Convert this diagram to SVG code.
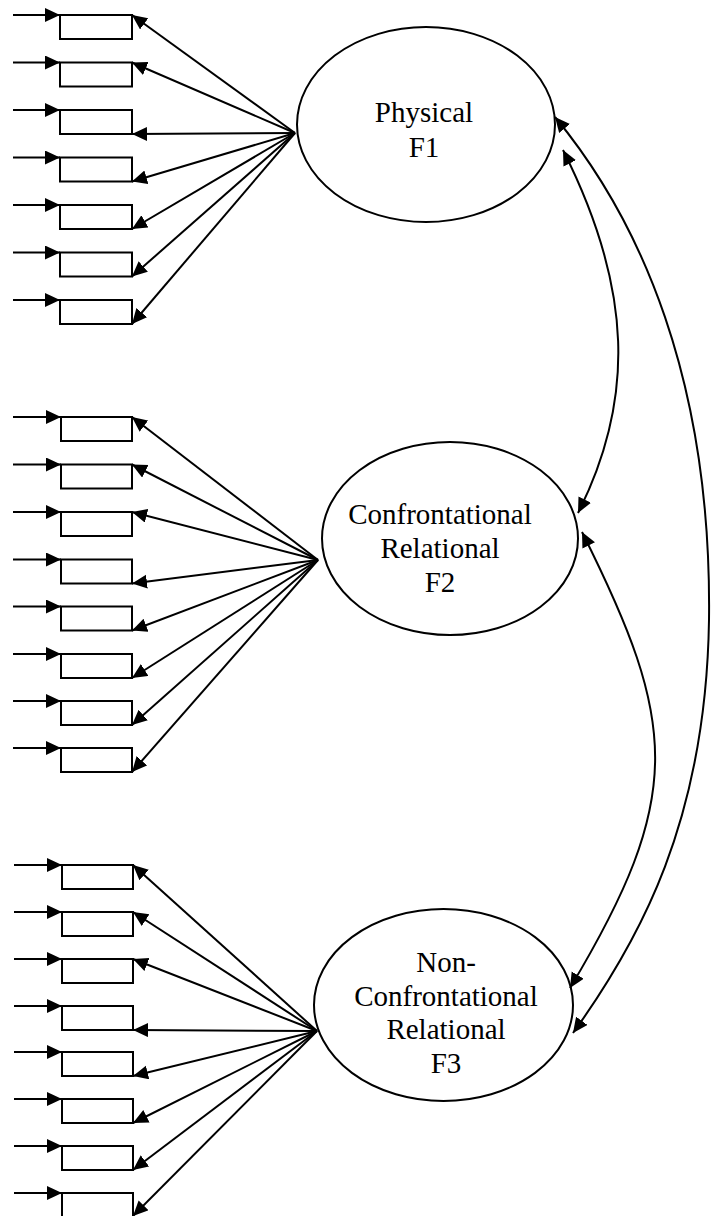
<svg xmlns="http://www.w3.org/2000/svg" width="712" height="1216" viewBox="0 0 712 1216">
<style>
.bg{fill:#fff}
.box{fill:#fff;stroke:#000;stroke-width:2}
.ell{fill:#fff;stroke:#000;stroke-width:2}
.ln{fill:none;stroke:#000;stroke-width:2;marker-end:url(#ah)}
.cv{fill:none;stroke:#000;stroke-width:2;marker-start:url(#ahs);marker-end:url(#ah)}
.lbl{font-family:"Liberation Serif","Times New Roman",serif;font-size:29px;fill:#000;text-anchor:middle}
</style>
<defs>
<marker id="ah" markerUnits="userSpaceOnUse" markerWidth="16" markerHeight="15" refX="15" refY="7" orient="auto" viewBox="0 0 16 15">
<path d="M0,0 L15,7 L0,14 z" fill="#000"/>
</marker>
<marker id="ahs" markerUnits="userSpaceOnUse" markerWidth="16" markerHeight="15" refX="15" refY="7" orient="auto-start-reverse" viewBox="0 0 16 15">
<path d="M0,0 L15,7 L0,14 z" fill="#000"/>
</marker>
</defs>
<rect class="bg" x="0" y="0" width="712" height="1216"/>

<g id="indicators1">
<rect class="box" x="60" y="15" width="72" height="24"/>
<rect class="box" x="60" y="62.5" width="72" height="24"/>
<rect class="box" x="60" y="110" width="72" height="24"/>
<rect class="box" x="60" y="157.5" width="72" height="24"/>
<rect class="box" x="60" y="205" width="72" height="24"/>
<rect class="box" x="60" y="252.5" width="72" height="24"/>
<rect class="box" x="60" y="300" width="72" height="24"/>
</g>
<g id="indicators2">
<rect class="box" x="61" y="417" width="71" height="24"/>
<rect class="box" x="61" y="464.5" width="71" height="24"/>
<rect class="box" x="61" y="512" width="71" height="24"/>
<rect class="box" x="61" y="559.5" width="71" height="24"/>
<rect class="box" x="61" y="606.5" width="71" height="24"/>
<rect class="box" x="61" y="654" width="71" height="24"/>
<rect class="box" x="61" y="701" width="71" height="24"/>
<rect class="box" x="61" y="748" width="71" height="24"/>
</g>
<g id="indicators3">
<rect class="box" x="62" y="865" width="71" height="24"/>
<rect class="box" x="62" y="912" width="71" height="24"/>
<rect class="box" x="62" y="959" width="71" height="24"/>
<rect class="box" x="62" y="1006" width="71" height="24"/>
<rect class="box" x="62" y="1052" width="71" height="24"/>
<rect class="box" x="62" y="1099" width="71" height="24"/>
<rect class="box" x="62" y="1146" width="71" height="24"/>
<rect class="box" x="62" y="1193" width="71" height="24"/>
</g>

<g id="F1">
<ellipse class="ell" cx="426" cy="124.5" rx="129" ry="97.5"/>
<text class="lbl" x="424" y="122">Physical</text>
<text class="lbl" x="424" y="157">F1</text>
</g>
<g id="F2">
<ellipse class="ell" cx="450" cy="538.5" rx="128" ry="96.5"/>
<text class="lbl" x="440" y="524">Confrontational</text>
<text class="lbl" x="440" y="558">Relational</text>
<text class="lbl" x="440" y="592">F2</text>
</g>
<g id="F3">
<ellipse class="ell" cx="443.5" cy="1005" rx="129.5" ry="96"/>
<text class="lbl" x="446" y="972">Non-</text>
<text class="lbl" x="446" y="1006">Confrontational</text>
<text class="lbl" x="446" y="1039">Relational</text>
<text class="lbl" x="446" y="1073">F3</text>
</g>

<g id="connectors">
<!-- error inputs -->
<line class="ln" x1="13" y1="15" x2="60" y2="15"/>
<line class="ln" x1="13" y1="62.5" x2="60" y2="62.5"/>
<line class="ln" x1="13" y1="110" x2="60" y2="110"/>
<line class="ln" x1="13" y1="157.5" x2="60" y2="157.5"/>
<line class="ln" x1="13" y1="205" x2="60" y2="205"/>
<line class="ln" x1="13" y1="252.5" x2="60" y2="252.5"/>
<line class="ln" x1="13" y1="300" x2="60" y2="300"/>

<line class="ln" x1="13" y1="417" x2="61" y2="417"/>
<line class="ln" x1="13" y1="464.5" x2="61" y2="464.5"/>
<line class="ln" x1="13" y1="512" x2="61" y2="512"/>
<line class="ln" x1="13" y1="559.5" x2="61" y2="559.5"/>
<line class="ln" x1="13" y1="606.5" x2="61" y2="606.5"/>
<line class="ln" x1="13" y1="654" x2="61" y2="654"/>
<line class="ln" x1="13" y1="701" x2="61" y2="701"/>
<line class="ln" x1="13" y1="748" x2="61" y2="748"/>

<line class="ln" x1="14" y1="865" x2="62" y2="865"/>
<line class="ln" x1="14" y1="912" x2="62" y2="912"/>
<line class="ln" x1="14" y1="959" x2="62" y2="959"/>
<line class="ln" x1="14" y1="1006" x2="62" y2="1006"/>
<line class="ln" x1="14" y1="1052" x2="62" y2="1052"/>
<line class="ln" x1="14" y1="1099" x2="62" y2="1099"/>
<line class="ln" x1="14" y1="1146" x2="62" y2="1146"/>
<line class="ln" x1="14" y1="1193" x2="62" y2="1193"/>

<!-- loadings F1 -->
<line class="ln" x1="295" y1="133" x2="132" y2="15"/>
<line class="ln" x1="295" y1="133" x2="132" y2="62.5"/>
<line class="ln" x1="295" y1="133" x2="132" y2="134"/>
<line class="ln" x1="295" y1="133" x2="132" y2="181.5"/>
<line class="ln" x1="295" y1="133" x2="132" y2="229"/>
<line class="ln" x1="295" y1="133" x2="132" y2="276.5"/>
<line class="ln" x1="295" y1="133" x2="132" y2="324"/>

<!-- loadings F2 -->
<line class="ln" x1="318" y1="560" x2="132" y2="417"/>
<line class="ln" x1="318" y1="560" x2="132" y2="464.5"/>
<line class="ln" x1="318" y1="560" x2="132" y2="512"/>
<line class="ln" x1="318" y1="560" x2="132" y2="583.5"/>
<line class="ln" x1="318" y1="560" x2="132" y2="630.5"/>
<line class="ln" x1="318" y1="560" x2="132" y2="678"/>
<line class="ln" x1="318" y1="560" x2="132" y2="725"/>
<line class="ln" x1="318" y1="560" x2="132" y2="772"/>

<!-- loadings F3 -->
<line class="ln" x1="317" y1="1031" x2="133" y2="865"/>
<line class="ln" x1="317" y1="1031" x2="133" y2="912"/>
<line class="ln" x1="317" y1="1031" x2="133" y2="959"/>
<line class="ln" x1="317" y1="1031" x2="133" y2="1030"/>
<line class="ln" x1="317" y1="1031" x2="133" y2="1076"/>
<line class="ln" x1="317" y1="1031" x2="133" y2="1123"/>
<line class="ln" x1="317" y1="1031" x2="133" y2="1170"/>
<line class="ln" x1="317" y1="1031" x2="133" y2="1216"/>

<!-- covariances -->
<path class="cv" d="M563,150 C633,289 635,400 578,513"/>
<path class="cv" d="M582,532 C678,724 685,796 570,988"/>
<path class="cv" d="M555,117 C640,220 712,380 709,620 C706,820 640,940 573,1033"/>
</g>
</svg>
